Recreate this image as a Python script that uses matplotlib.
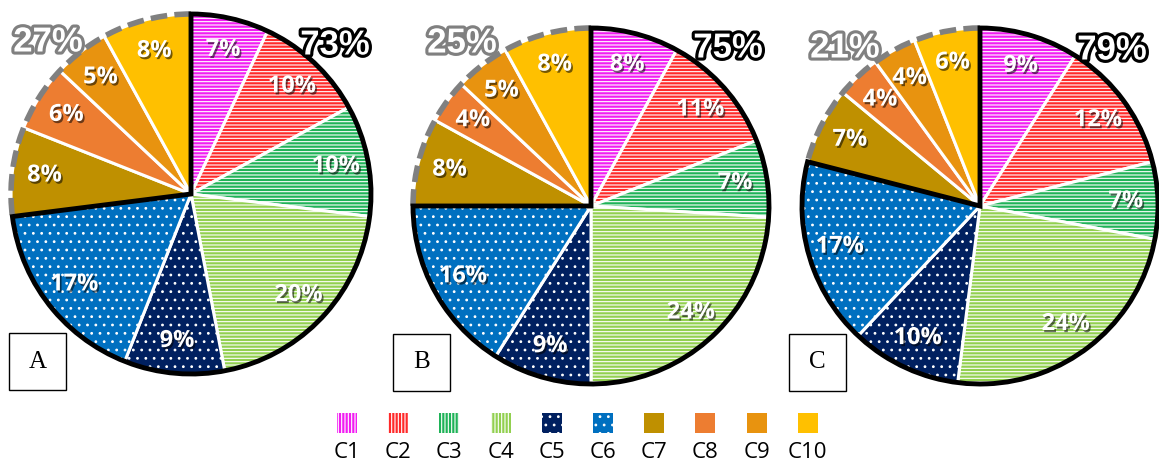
import matplotlib.pyplot as plt
import matplotlib.patheffects as pe
from matplotlib.patches import Wedge, Arc, Rectangle

categories = ["C1", "C2", "C3", "C4", "C5", "C6", "C7", "C8", "C9", "C10"]
panels = ["A", "B", "C"]
values_a = [7, 10, 10, 20, 9, 17, 8, 6, 5, 8]
values_b = [8, 11, 7, 24, 9, 16, 8, 4, 5, 8]
values_c = [9, 12, 7, 24, 10, 17, 7, 4, 4, 6]
n_first_group = 6  # C1..C6 outlined black, C7..C10 dashed grey

colors = ["#F21DF2", "#FF2A2A", "#1FB358", "#92D050", "#002060",
          "#0070C0", "#BF9000", "#ED7D31", "#E8930F", "#FFC000"]
pie_hatch = ["-----", "-----", "-----", "-----", "..", "..", "", "", "", ""]
legend_hatch = ["|||||", "|||||", "|||||", "|||||", "..", "..", "", "", "", ""]

W, H = 1159, 461
plt.rcParams["hatch.linewidth"] = 0.8

fig = plt.figure(figsize=(W / 100, H / 100), dpi=100)
ax = fig.add_axes([0, 0, 1, 1])

# pie layout in pixel coords (x, y from top), radius
centers = [(191, 194), (591, 206), (980, 206)]
radius = [180, 178, 178]
big_pos = [((335, 45), (48, 42)), ((728, 48), (462, 43)), ((1112, 50), (845, 48))]
box_pos = [(9, 333), (393, 334), (789, 334)]

shadow = [pe.withSimplePatchShadow(offset=(1.2, -1.5), shadow_rgbFace="black", alpha=0.55)]

for i, vals in enumerate([values_a, values_b, values_c]):
    cx, cy = centers[i][0], H - centers[i][1]
    r = radius[i]
    wedges, texts, autotexts = ax.pie(
        vals, colors=colors, hatch=pie_hatch, startangle=90, counterclock=False,
        center=(cx, cy), radius=r, autopct="%.0f%%", pctdistance=0.82,
        wedgeprops=dict(edgecolor="white", linewidth=2.2), frame=True,
        textprops=dict(color="white", fontsize=17, fontweight="bold", family="Open Sans"))
    for t in autotexts:
        t.set_path_effects(shadow)

    first = sum(vals[:n_first_group])
    rest = sum(vals[n_first_group:])
    theta = 90 - 360 * first / sum(vals)
    ax.add_patch(Wedge((cx, cy), r, theta, 90, fill=False, edgecolor="black",
                       linewidth=3.5, zorder=5))
    ax.add_patch(Arc((cx, cy), 2 * r, 2 * r, theta1=90, theta2=theta + 360,
                     edgecolor="#808080", linewidth=4, linestyle=(0, (3, 1.3)), zorder=4))

    (x1, y1), (x2, y2) = big_pos[i]
    ax.text(x1, H - y1, f"{first}%", ha="center", va="center", fontsize=25,
            fontweight="bold", family="Liberation Sans", color="white",
            path_effects=[pe.Stroke(linewidth=4.5, foreground="black"), pe.Normal()], zorder=6)
    ax.text(x2, H - y2, f"{rest}%", ha="center", va="center", fontsize=25,
            fontweight="bold", family="Liberation Sans", color="white",
            path_effects=[pe.Stroke(linewidth=4.5, foreground="#808080"), pe.Normal()], zorder=6)

    bx, by = box_pos[i]
    ax.add_patch(Rectangle((bx, H - by - 57), 57, 57, facecolor="white",
                           edgecolor="black", linewidth=1, zorder=7))
    ax.text(bx + 28.5, H - by - 28.5, panels[i], ha="center", va="center",
            fontsize=18, family="Liberation Serif", zorder=8)

# legend: squares with labels underneath
for k, name in enumerate(categories):
    lx = 347 + 51.2 * k
    ax.add_patch(Rectangle((lx - 10, H - 433), 20, 20, facecolor=colors[k],
                           hatch=legend_hatch[k], edgecolor="white", linewidth=0))
    ax.text(lx, H - 452, name, ha="center", va="center", fontsize=16, family="Open Sans")

ax.set_xlim(0, W)
ax.set_ylim(0, H)
ax.set_aspect("equal", adjustable="datalim")
ax.axis("off")

fig.savefig("out.png", dpi=100)
